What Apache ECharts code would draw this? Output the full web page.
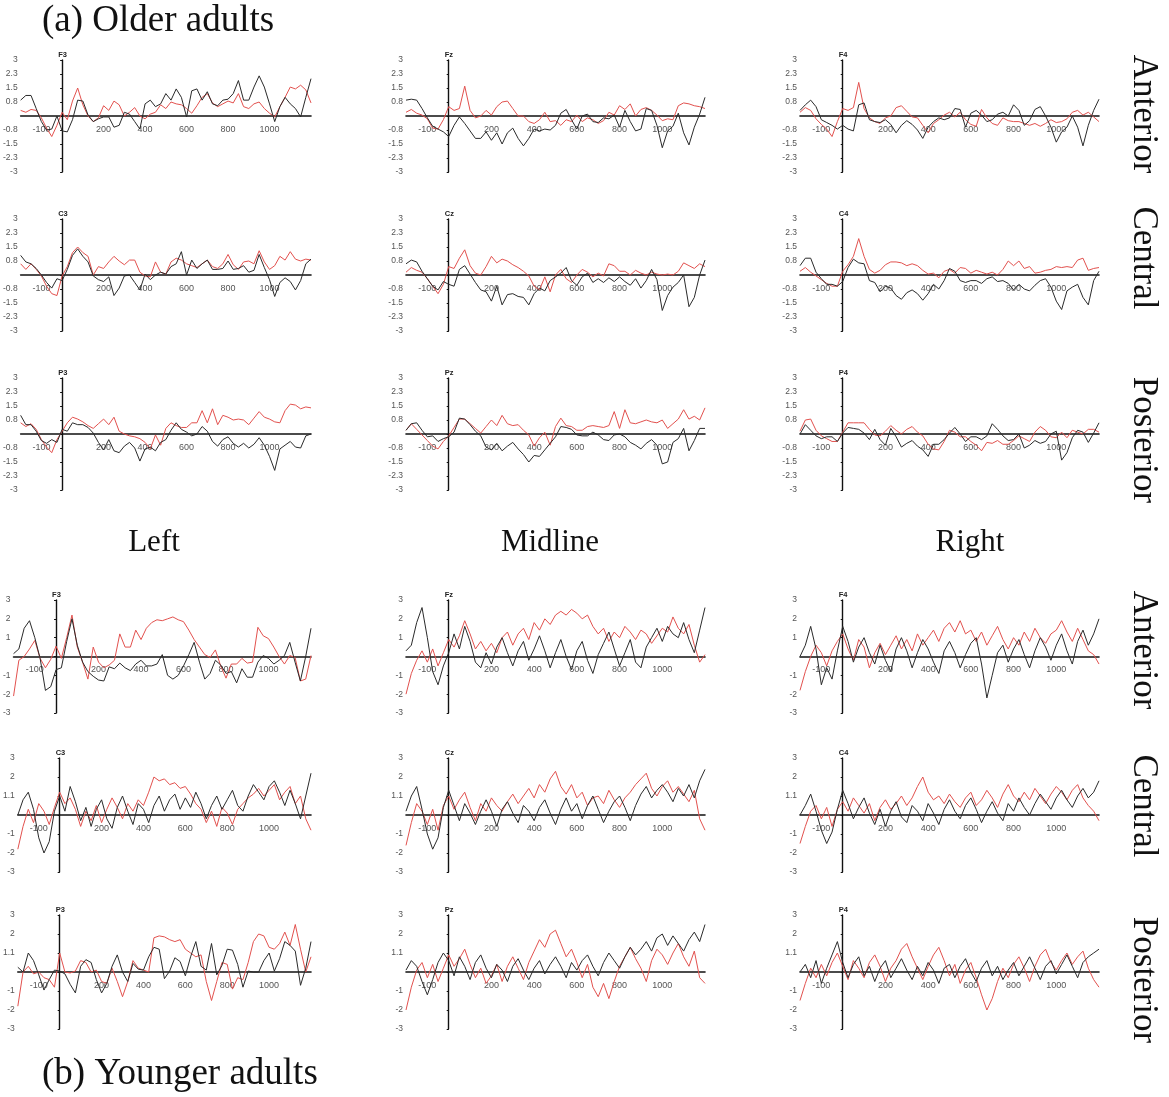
<!DOCTYPE html>
<html>
<head>
<meta charset="utf-8">
<script src="https://cdn.jsdelivr.net/npm/echarts@6/dist/echarts.min.js"></script>
<style>
  html, body { margin: 0; padding: 0; background: #ffffff; }
  #chart { width: 1169px; height: 1097px; }
</style>
</head>
<body>
<div id="chart"></div>
<script>
// Time points (ms) of the averaged waveforms
const times = [-200,-175,-150,-125,-100,-75,-50,-25,0,25,50,75,100,125,150,175,200,225,250,275,300,325,350,375,400,425,450,475,500,525,550,575,600,625,650,675,700,725,750,775,800,825,850,875,900,925,950,975,1000,1025,1050,1075,1100,1125,1150,1175,1200];

// Older adults: condition A (black) and condition B (red), amplitude in µV
const older_F3_a = [0.85,1.1,1.1,0.4,-0.3,-0.75,-0.7,0,-0.8,-0.85,-0.2,0.85,0.8,0.05,-0.3,-0.15,-0.05,-0.05,-0.6,-0.5,0.2,0.1,-0.3,-0.7,0.65,0.85,0.5,0.65,1.2,0.85,1.45,1.0,-0.05,1.35,1.45,0.85,1.3,0.65,0.55,0.85,0.9,1.2,1.9,0.85,0.85,1.55,2.15,1.55,0.65,-0.3,0.5,1.0,0.65,0.4,-0.05,1.0,2.0];
const older_F3_b = [0.3,0.2,0.35,0.3,-0.1,-0.65,-1.1,-0.5,0.2,-0.2,0.8,1.5,0.6,0.0,-0.3,-0.1,0.55,0.3,0.8,0.6,0.0,0.2,0.45,0.0,-0.15,0.1,0.2,0.6,0.4,0.75,0.65,0.6,0.4,0.15,0.55,1.0,1.2,0.7,0.5,0.65,0.8,0.7,1.2,0.5,0.4,0.65,0.75,0.4,0.15,-0.05,0.5,1.0,1.55,1.45,1.65,1.4,0.7];
const older_Fz_a = [0.85,0.9,0.85,0.4,-0.1,-0.55,-0.7,-0.85,-1.1,-0.5,-0.05,-0.4,-0.8,-1.2,-1.2,-0.85,-1.3,-0.9,-1.5,-0.9,-0.65,-1.2,-1.6,-1.2,-0.7,-0.8,-0.7,-0.75,-0.5,0.15,0.35,-0.2,-0.7,0.0,0.1,-0.3,-0.35,-0.1,-0.15,0.05,-0.6,0.3,-0.3,-0.8,-0.7,0.4,0.3,-0.5,-1.7,-0.8,-0.55,0.15,-0.9,-1.55,-0.6,0.1,1.0];
const older_Fz_b = [0.2,0.35,0.15,0.05,-0.15,-0.65,-0.7,-0.2,0.5,0.3,0.4,1.6,0.3,-0.1,0.0,0.3,0.05,0.5,0.75,0.8,0.4,0.0,0.0,-0.3,-0.4,-0.2,0.2,-0.3,-0.25,-0.5,-0.2,-0.3,0.05,-0.3,-0.1,-0.2,-0.4,-0.25,0.2,0.05,0.55,0.35,0.65,0.0,0.35,0.45,0.3,0.05,-0.25,-0.15,-0.2,0.55,0.7,0.65,0.55,0.5,0.4];
const older_F4_a = [0.3,0.6,0.85,0.5,-0.2,-0.35,-0.5,-0.7,-0.5,-0.7,-0.8,0.6,0.7,-0.2,-0.3,-0.35,-0.2,-0.45,-0.9,-0.5,-0.25,-0.45,-0.75,-1.2,-0.6,-0.3,-0.1,-0.2,-0.1,0.4,0.35,-0.6,0.15,0.3,0.05,-0.3,-0.2,0.1,0.2,0.0,0.6,0.3,-0.5,-0.25,0.35,0.5,0.0,-0.6,-1.4,-0.85,-0.6,0.0,-0.6,-1.6,-0.5,0.3,0.9];
const older_F4_b = [0.2,0.45,0.3,-0.15,-0.45,-0.7,-1.1,-0.3,0.4,0.3,0.45,1.8,0.4,-0.1,-0.3,-0.4,-0.1,0.0,0.45,0.55,0.25,-0.05,-0.1,-0.5,-0.9,-0.4,-0.2,0.05,0.2,-0.05,0.2,-0.2,-0.45,-0.55,0.35,-0.1,-0.4,-0.5,-0.1,-0.25,-0.3,-0.3,-0.4,-0.5,-0.4,-0.55,-0.4,-0.2,-0.35,-0.3,-0.15,0.2,0.3,0.05,0.2,-0.05,-0.3];
const older_C3_a = [1.05,0.7,0.6,0.35,0.0,-0.4,-0.7,-0.2,-0.3,0.3,1.05,1.4,1.0,0.7,-0.05,-0.25,-0.35,-0.1,-1.1,-0.7,-0.05,0.0,-0.4,-0.8,0.05,-0.25,0.0,0.15,0.05,0.45,0.6,1.25,0.0,0.8,0.35,0.6,0.8,0.3,0.3,0.35,0.75,0.3,0.35,0.5,0.15,0.25,1.1,0.4,-0.25,-1.15,-0.4,-0.15,-0.35,-0.8,-0.3,0.6,0.85];
const older_C3_b = [0.6,0.3,0.6,0.3,-0.05,-0.6,-1.0,-1.1,-0.05,0.45,1.2,1.5,1.2,1.0,0.0,0.45,0.35,0.7,1.0,0.75,0.55,0.8,0.8,0.15,-0.05,-0.1,0.7,0.15,0.05,0.7,0.9,0.8,0.6,0.5,0.4,0.6,0.8,0.45,0.35,0.6,1.1,0.55,0.3,0.7,0.75,0.6,1.3,0.7,0.3,0.5,1.0,0.8,1.25,0.85,0.75,0.85,0.8];
const older_Cz_a = [0.6,0.8,0.7,0.2,-0.2,-0.6,-0.8,-0.35,-0.5,-0.6,0.3,0.5,0.05,-0.4,-0.8,-0.9,-1.4,-0.6,-1.6,-1.05,-1.0,-1.15,-1.2,-1.6,-1.0,-0.7,-0.85,-0.3,-0.1,0.1,0.4,-0.3,-0.55,-0.1,0.1,-0.4,-0.2,-0.4,-0.15,-0.35,-0.1,-0.35,-0.55,-0.2,-0.7,-0.3,0.3,-0.25,-1.9,-1.1,-0.65,-0.4,0.0,-1.7,-1.2,0.0,0.8];
const older_Cz_b = [0.15,0.4,0.25,0.15,-0.2,-0.6,-1.0,-0.5,0.45,0.35,0.9,1.35,0.5,0.1,0.0,0.45,1.0,0.65,0.85,0.75,0.55,0.4,0.2,-0.05,-0.6,-0.8,-0.1,-0.9,0.0,0.3,-0.2,-0.4,0.0,0.3,0.15,-0.1,0.1,-0.05,0.6,0.5,0.2,0.2,0.0,0.25,0.1,0.0,0.15,0.05,0.0,0.05,0.0,0.2,0.65,0.5,0.35,0.6,0.45];
const older_C4_a = [0.5,0.9,0.9,0.15,-0.2,-0.5,-0.5,-0.6,-0.35,0.4,0.85,0.65,0.6,-0.3,-0.4,-0.9,-0.6,-0.7,-1.1,-1.3,-0.95,-0.8,-1.0,-1.35,-1.0,-0.5,-0.75,-0.3,0.35,0.2,-0.3,-0.4,-0.3,-0.3,-0.45,-0.2,-0.1,-0.35,-0.3,-0.45,-0.8,-0.5,-0.75,-0.85,-0.55,-0.3,-0.2,-0.65,-1.4,-1.85,-0.85,-0.65,-0.5,-1.2,-1.6,-0.3,0.2];
const older_C4_b = [0.2,0.4,0.15,-0.05,-0.25,-0.45,-0.6,-0.6,0.2,0.55,1.0,1.95,1.0,0.3,0.1,0.25,0.55,0.7,0.7,0.65,0.5,0.6,0.5,0.25,0.05,0.1,-0.15,0.2,0.3,0.1,0.4,0.35,0.1,0.25,0.15,0.05,0.15,0.0,0.3,0.75,0.5,0.75,0.35,0.45,0.1,0.15,0.25,0.3,0.45,0.4,0.45,0.4,0.8,0.9,0.25,0.35,0.4];
const older_P3_a = [1.0,0.5,0.5,0.15,-0.35,-0.5,-0.3,-0.45,0.25,0.15,0.6,0.5,0.5,0.35,0.05,-0.45,-0.85,-0.3,-0.9,-1.0,-0.65,-0.45,-0.75,-1.45,-0.8,-0.7,-0.9,-0.45,-0.3,0.2,0.6,0.25,0.1,-0.1,0.0,0.4,0.15,-0.4,-0.65,-0.3,-0.15,-0.5,-0.7,-0.5,-0.75,-0.55,-0.2,-0.6,-1.2,-1.95,-0.8,-0.6,-0.4,-0.7,-0.75,-0.1,0.0];
const older_P3_b = [0.6,0.4,0.55,0.25,-0.3,-0.7,-1.0,-0.3,0.15,0.6,0.9,0.8,0.65,0.45,0.3,0.55,0.8,0.5,0.9,0.15,0.0,-0.1,-0.15,-0.25,-0.45,-0.8,-0.05,-0.6,0.3,0.6,0.45,0.35,0.35,0.6,0.6,1.25,0.6,1.35,0.5,1.0,0.9,0.75,0.8,0.75,0.5,0.85,1.2,0.9,0.8,0.65,0.6,1.25,1.6,1.55,1.35,1.45,1.4];
const older_Pz_a = [0.2,0.55,0.6,0.2,-0.15,-0.1,-0.4,-0.25,-0.15,0.1,0.85,0.8,0.5,0.15,-0.1,-0.7,-0.85,-0.5,-0.9,-0.65,-0.45,-0.8,-1.1,-1.5,-1.15,-1.2,-0.85,-0.5,-0.15,0.4,0.35,0.25,-0.05,-0.1,-0.1,0.1,-0.05,-0.3,-0.35,-0.05,0.0,-0.15,-0.45,-0.6,-0.8,-0.5,-0.3,-0.6,-1.6,-1.5,-0.45,-0.25,0.3,-0.9,-0.35,0.3,0.3];
const older_Pz_b = [0.2,0.55,0.25,-0.05,-0.35,-0.65,-0.8,-0.4,-0.1,0.35,0.8,0.8,0.55,0.3,0.05,0.4,0.75,0.45,1.0,0.55,0.45,0.5,0.2,-0.05,-0.65,-0.2,0.1,-0.6,0.4,0.85,0.45,0.4,0.2,0.2,0.4,0.45,0.4,0.35,0.45,1.2,0.3,1.3,0.6,0.55,0.65,0.75,0.65,0.6,0.75,0.3,0.55,0.8,1.3,0.8,0.95,0.75,1.4];
const older_P4_a = [0.0,0.5,0.2,-0.1,-0.25,-0.15,-0.15,-0.4,0.05,0.35,0.3,0.25,0.05,-0.3,0.25,-0.3,-0.6,0.3,-0.15,-0.7,-0.5,-0.35,-0.65,-0.85,-1.2,-0.55,-0.55,-0.3,0.05,0.35,0.0,-0.4,-0.15,-0.15,-0.3,-0.1,0.55,0.25,-0.1,-0.35,-0.3,0.0,-0.75,-0.6,-0.35,-0.5,-0.4,0.0,0.15,-1.4,-1.0,-0.2,0.2,0.1,-0.45,0.05,0.6];
const older_P4_b = [0.15,0.75,0.8,0.2,-0.1,-0.25,-0.4,-0.4,0.1,0.6,0.6,0.6,0.6,0.25,-0.05,-0.1,0.15,0.45,0.2,0.0,0.25,0.4,0.1,-0.1,-0.55,-0.8,-0.85,-0.4,0.2,0.1,-0.15,-0.15,-0.4,-0.6,-0.9,-0.45,-0.5,-0.35,-0.55,-0.55,-0.35,-0.1,-0.25,-0.4,0.1,0.4,0.2,-0.15,-0.2,0.1,-0.2,0.2,0.1,0.0,0.25,0.25,0.1];

// Younger adults: condition A (black) and condition B (red), amplitude in µV
const young_F3_a = [0.15,0.4,1.5,1.9,1.0,-0.1,-1.8,-1.6,-0.7,-0.6,0.8,2.0,0.6,-0.3,-0.8,-1.05,-1.25,-1.3,-0.55,-0.65,-0.35,-0.6,-0.75,-0.4,-0.2,-0.5,-0.5,-0.4,0.1,-1.0,-1.2,-1.0,-0.5,0.1,0.75,-0.3,-1.2,-0.9,-0.2,-0.45,-0.9,-0.8,-1.4,-0.65,-1.1,-1.1,-0.3,0.05,-0.1,-0.4,-0.2,0.05,0.75,-0.3,-1.3,0.0,1.5];
const young_F3_b = [-2.1,-0.2,0.0,0.4,0.85,-0.1,-0.6,-0.15,0.55,-0.1,1.0,2.2,0.5,-0.3,-1.2,0.5,-0.3,-0.6,-0.45,-0.2,1.2,0.5,0.5,1.4,0.9,1.5,1.8,1.95,1.9,2.0,2.1,1.95,1.85,1.4,0.9,0.5,0.1,-0.05,0.35,-0.5,-1.15,-0.4,-0.4,-0.1,-0.35,-0.3,1.55,1.1,0.95,0.5,0.0,-0.4,0.05,-0.05,-1.3,-1.2,0.05];
const young_Fz_a = [0.3,0.6,1.8,2.6,1.0,-0.8,-1.5,-0.5,0.2,1.2,0.4,1.6,0.8,-0.3,-0.6,0.2,-0.4,0.5,1.0,0.2,-0.5,0.3,0.8,-0.2,0.4,1.1,0.3,-0.6,0.2,0.9,0.0,-0.7,0.3,0.8,-0.2,-0.9,0.1,0.7,1.3,0.4,-0.5,0.2,0.9,-0.3,-0.6,0.5,1.0,1.5,0.8,1.6,1.2,1.0,1.8,0.9,0.2,1.4,2.6];
const young_Fz_b = [-2.0,-0.9,-0.2,0.3,-0.3,0.4,-0.5,0.2,0.9,0.5,1.1,1.9,1.2,0.4,0.8,0.3,0.7,0.2,1.0,1.3,0.6,1.2,1.5,0.9,1.8,1.4,2.0,1.7,2.2,2.4,2.2,2.5,2.3,2.0,2.2,1.6,1.2,1.5,0.8,1.3,1.0,1.6,1.3,0.9,1.4,1.2,0.7,1.1,1.5,1.3,2.1,1.5,1.2,1.7,0.6,-0.3,0.1];
const young_F4_a = [0.0,0.6,1.6,0.4,-1.5,-0.6,-1.2,0.3,1.6,0.8,-0.3,0.5,1.0,0.2,-0.4,0.6,-0.2,-0.8,0.4,1.0,0.3,-0.6,0.2,0.9,0.4,-0.3,-0.9,0.3,0.8,0.2,-0.6,0.1,0.7,1.0,-0.4,-2.2,-1.0,0.2,0.6,-0.3,0.4,0.9,0.1,-0.6,0.3,1.0,0.5,-0.2,0.6,1.2,0.3,-0.4,0.8,1.4,0.6,1.2,2.0];
const young_F4_b = [-1.8,-0.8,0.0,0.6,0.2,-0.5,0.3,0.8,1.2,0.4,-0.2,0.9,0.5,-0.6,0.2,0.7,0.1,0.6,1.1,0.4,0.9,0.3,1.2,0.6,1.0,1.4,0.8,1.5,1.8,1.3,1.9,1.2,1.4,0.8,1.3,0.6,1.1,1.6,0.9,0.4,1.0,0.6,1.3,0.8,1.5,1.0,0.7,1.2,1.4,1.9,1.3,0.8,1.5,0.9,0.3,0.1,-0.4];
const young_C3_a = [0.0,0.8,1.2,0.3,-1.2,-2.0,-1.4,0.2,1.0,0.2,1.5,0.7,-0.3,0.4,-0.6,0.3,0.8,-0.2,-0.7,0.4,1.0,0.2,-0.5,0.6,0.3,-0.4,0.5,1.0,0.2,0.8,1.1,0.3,0.9,0.4,1.2,0.6,-0.2,0.5,1.0,0.3,0.8,1.3,0.5,0.2,1.0,1.6,1.2,0.8,1.5,1.8,1.2,0.5,1.3,0.6,-0.2,1.0,2.2];
const young_C3_b = [-1.8,-0.6,0.3,-0.4,0.6,0.2,-0.5,0.4,1.2,0.6,0.9,0.3,-0.6,0.2,-0.3,0.5,-0.4,0.3,0.9,0.4,-0.2,0.6,0.2,0.8,0.5,1.2,2.0,1.8,1.9,1.6,1.7,1.4,1.5,1.1,0.6,0.3,-0.4,0.2,-0.6,0.4,0.1,-0.5,0.3,0.6,0.9,1.1,1.4,1.0,1.3,1.6,0.8,1.2,1.5,0.6,1.0,-0.2,-0.8];
const young_Cz_a = [0.2,1.0,1.5,0.3,-1.0,-1.8,-1.2,0.4,1.3,0.5,-0.3,0.6,0.1,-0.5,0.2,0.8,0.2,-0.6,0.3,0.7,0.1,-0.4,0.5,0.2,-0.3,0.4,0.8,0.1,-0.5,0.3,0.9,0.2,0.6,-0.2,0.5,1.0,0.3,-0.4,0.2,0.7,1.0,0.4,-0.3,0.5,1.1,1.5,0.9,1.3,1.6,1.2,0.7,1.4,1.0,1.6,0.9,1.8,2.4];
const young_Cz_b = [-1.6,-0.4,0.6,0.2,-0.5,0.3,-0.8,0.5,1.0,0.3,0.8,1.2,0.4,-0.3,0.6,0.2,0.9,0.5,0.2,0.7,1.1,0.6,1.0,1.4,0.9,1.6,1.2,1.9,2.3,1.5,1.1,1.6,0.9,1.2,0.5,0.9,1.0,0.6,1.3,0.8,0.4,0.9,1.2,1.6,1.9,2.2,1.4,1.0,1.5,1.8,1.2,1.5,1.1,0.7,1.3,-0.2,-0.8];
const young_C4_a = [0.0,0.5,1.1,0.2,-0.8,-1.5,-0.9,0.3,1.3,0.6,-0.2,0.4,0.9,0.1,-0.5,0.3,-0.6,0.2,0.7,-0.1,-0.4,0.5,0.2,-0.3,0.6,0.1,-0.5,0.3,0.8,0.2,-0.2,0.5,0.9,0.3,-0.4,0.2,0.7,0.1,-0.3,0.6,0.2,0.9,0.4,0.0,0.6,1.1,0.7,0.3,0.9,1.3,0.8,0.4,1.0,1.4,0.9,1.2,1.8];
const young_C4_b = [-1.5,-0.6,0.2,0.5,-0.2,0.4,-0.6,0.3,0.7,0.2,0.9,0.5,0.1,0.6,-0.3,0.4,0.8,0.3,0.6,1.0,0.5,0.9,1.5,2.0,1.2,0.8,1.0,0.6,1.1,0.7,0.4,0.9,1.2,0.5,0.8,1.3,0.9,0.4,1.1,1.6,1.0,0.7,1.2,0.8,1.4,1.0,0.6,1.1,1.5,1.2,0.8,1.3,1.6,0.9,0.5,0.2,-0.3];
const young_P3_a = [0.25,0.0,1.0,0.6,-0.15,-0.95,-0.4,0.1,0.05,-0.1,-0.65,-1.1,0.3,0.65,0.5,-0.4,-1.1,-0.6,0.3,0.9,0.0,-0.5,0.45,0.15,0.1,0.8,1.3,1.2,-0.35,0.05,0.75,0.55,-0.2,0.8,1.6,0.3,0.1,1.5,-0.15,0.35,1.2,1.15,0.4,-0.8,0.05,0.0,0.0,0.6,1.0,0.05,0.7,1.6,1.4,1.1,-0.7,0.2,1.6];
const young_P3_b = [-1.8,0.0,0.3,-0.1,0.0,-0.3,-0.4,-0.8,1.0,0.0,-0.05,0.05,0.6,0.5,0.0,0.1,-0.5,-0.6,0.2,-0.5,-1.3,-0.5,0.6,0.2,0.1,0.0,1.8,1.9,1.85,1.7,1.6,1.7,1.2,1.0,0.8,0.9,-0.5,-1.5,-0.5,0.5,0.4,-0.9,-0.3,-0.4,0.5,1.6,2.0,1.9,1.3,1.2,1.5,2.1,1.4,2.5,1.2,0.0,0.8];
const young_Pz_a = [0.1,0.6,0.3,-0.5,-1.2,-0.4,0.5,1.0,0.6,-0.2,0.8,0.3,-0.4,0.5,0.9,0.2,-0.3,0.4,0.1,-0.5,0.3,0.7,0.1,-0.4,0.2,0.6,-0.1,0.4,0.8,0.3,-0.3,0.5,0.1,0.6,0.9,0.3,-0.2,0.5,1.0,0.6,0.2,0.8,1.3,0.9,1.2,1.6,1.1,1.8,2.0,1.4,1.9,1.5,1.1,1.7,2.1,1.6,2.5];
const young_Pz_b = [-2.0,-0.8,0.1,0.5,-0.3,0.4,-0.5,0.2,0.9,0.3,0.7,1.2,0.4,-0.3,0.2,-0.6,-0.2,0.4,-0.5,0.3,0.8,0.2,-0.4,0.5,1.1,1.7,1.3,2.0,2.2,1.5,0.8,1.2,0.5,-0.3,0.4,-0.8,-1.3,-0.6,-1.4,-0.5,0.3,0.8,1.3,0.7,0.2,-0.5,0.6,1.2,0.9,0.4,1.0,1.5,0.8,0.3,1.1,-0.3,-0.6];
const young_P4_a = [0.0,0.4,-0.3,0.6,-0.6,0.2,0.9,1.6,0.5,-0.3,0.4,0.8,-0.2,0.3,-0.5,0.2,0.6,-0.3,0.2,0.7,0.1,-0.4,0.3,-0.2,0.5,0.1,-0.6,0.2,0.4,-0.3,0.3,0.7,0.0,-0.5,0.2,0.6,-0.2,0.3,-0.4,0.1,0.5,-0.2,0.3,0.8,0.2,-0.4,0.3,0.6,-0.1,0.4,0.9,0.3,-0.3,0.5,0.8,1.0,1.2];
const young_P4_b = [-1.5,-0.6,0.2,-0.3,0.4,-0.2,0.5,1.0,0.3,-0.4,0.6,0.2,-0.3,0.5,0.9,0.3,-0.5,0.2,0.6,1.2,1.5,0.8,0.2,-0.4,0.3,0.9,1.3,0.6,-0.2,0.4,-0.6,0.1,0.5,-0.3,-1.2,-2.0,-1.4,-0.5,0.2,-0.3,0.4,0.8,0.2,-0.5,0.3,0.9,1.2,0.5,0.1,0.6,1.0,0.4,0.8,1.1,0.2,-0.4,-0.8];

// Channel layout: [group, row, column, channel, black trace, red trace]
const panels = [
  ['older', 0, 0, 'F3', older_F3_a, older_F3_b],
  ['older', 0, 1, 'Fz', older_Fz_a, older_Fz_b],
  ['older', 0, 2, 'F4', older_F4_a, older_F4_b],
  ['older', 1, 0, 'C3', older_C3_a, older_C3_b],
  ['older', 1, 1, 'Cz', older_Cz_a, older_Cz_b],
  ['older', 1, 2, 'C4', older_C4_a, older_C4_b],
  ['older', 2, 0, 'P3', older_P3_a, older_P3_b],
  ['older', 2, 1, 'Pz', older_Pz_a, older_Pz_b],
  ['older', 2, 2, 'P4', older_P4_a, older_P4_b],
  ['young', 3, 0, 'F3', young_F3_a, young_F3_b],
  ['young', 3, 1, 'Fz', young_Fz_a, young_Fz_b],
  ['young', 3, 2, 'F4', young_F4_a, young_F4_b],
  ['young', 4, 0, 'C3', young_C3_a, young_C3_b],
  ['young', 4, 1, 'Cz', young_Cz_a, young_Cz_b],
  ['young', 4, 2, 'C4', young_C4_a, young_C4_b],
  ['young', 5, 0, 'P3', young_P3_a, young_P3_b],
  ['young', 5, 1, 'Pz', young_Pz_a, young_Pz_b],
  ['young', 5, 2, 'P4', young_P4_a, young_P4_b]
];

const xTickLabels = [-100, 200, 400, 600, 800, 1000];

// Panel geometry
const rowTop = [60, 219, 378, 600, 758, 915];
const rowHeight = [112, 112, 112, 113, 114, 114];
const colLeft = [12, 406, 800];
const panelWidth = 299;

const BLACK = '#2a2a2a';
const RED = '#e2514e';
const AXIS = '#111111';
const LABEL = '#555555';
const SANS = 'Arial, "Liberation Sans", sans-serif';

function fmtOlder(v) {
  if (Math.abs(v) < 1e-9) return '';
  const s = v < 0 ? -1 : 1;
  return (s * Math.round(Math.abs(v) * 10) / 10).toFixed(Math.abs(v) === 3 ? 0 : 1).replace(/\.0$/, '');
}

const grids = [], xAxes = [], yAxes = [], series = [];
panels.forEach((p, i) => {
  const [group, row, col, ch, blk, red] = p;
  const h = rowHeight[row];
  grids.push({ left: colLeft[col], top: rowTop[row], width: panelWidth, height: h, containLabel: false });
  xAxes.push({
    gridIndex: i, type: 'value', min: -200, max: 1200, interval: 100,
    axisLine: { onZero: true, lineStyle: { color: AXIS, width: 1.6 } },
    axisTick: { show: false },
    splitLine: { show: false },
    axisLabel: {
      fontSize: 9, color: LABEL, fontFamily: SANS,
      // labels sit just under the zero line
      margin: -(h / 2 - 9),
      showMinLabel: false, showMaxLabel: false,
      formatter: v => xTickLabels.indexOf(v) >= 0 ? String(v) : ''
    }
  });
  const older = group === 'older';
  const midRow = row === 4 || row === 5;
  yAxes.push({
    gridIndex: i, type: 'value', min: -3, max: 3, interval: older ? 0.75 : 1,
    axisLine: { show: true, onZero: true, lineStyle: { color: AXIS, width: 1.4 } },
    axisTick: { show: true, length: 2, lineStyle: { color: AXIS, width: 1 } },
    splitLine: { show: false },
    axisLabel: {
      fontSize: 8.5, color: LABEL, margin: 3, fontFamily: SANS,
      formatter: v => {
        if (older) return fmtOlder(v);
        if (v === 0) return '';
        if (v === 1 && midRow) return '1.1';
        return String(v);
      }
    },
    name: ch, nameLocation: 'end', nameGap: 1,
    nameTextStyle: { fontSize: 7.5, fontWeight: 'bold', color: '#222', align: 'left', padding: [0, 0, 0, -4], fontFamily: SANS }
  });
  series.push({
    type: 'line', xAxisIndex: i, yAxisIndex: i, showSymbol: false, silent: true,
    data: times.map((t, j) => [t, red[j]]),
    lineStyle: { color: RED, width: 1 }, z: 2
  });
  series.push({
    type: 'line', xAxisIndex: i, yAxisIndex: i, showSymbol: false, silent: true,
    data: times.map((t, j) => [t, blk[j]]),
    lineStyle: { color: BLACK, width: 1 }, z: 3
  });
});

const serif = '"Liberation Serif", "Times New Roman", serif';
function txt(text, x, y, size, align, rot) {
  return {
    type: 'text', x: x, y: y, rotation: rot || 0, silent: true,
    style: {
      text: text, font: size + 'px ' + serif, fill: '#111',
      textAlign: align, textVerticalAlign: 'middle', align: align, verticalAlign: 'middle'
    }
  };
}
const graphics = [
  txt('(a) Older adults', 42, 21, 37, 'left'),
  txt('Left', 154, 543, 31, 'center'),
  txt('Midline', 550, 543, 31, 'center'),
  txt('Right', 970, 543, 31, 'center'),
  txt('(b) Younger adults', 42, 1074, 37, 'left'),
  txt('Anterior', 1143, 114, 35, 'center', -Math.PI / 2),
  txt('Central', 1143, 258, 35, 'center', -Math.PI / 2),
  txt('Posterior', 1143, 440, 35, 'center', -Math.PI / 2),
  txt('Anterior', 1143, 650, 35, 'center', -Math.PI / 2),
  txt('Central', 1143, 806, 35, 'center', -Math.PI / 2),
  txt('Posterior', 1143, 980, 35, 'center', -Math.PI / 2)
];

const chart = echarts.init(document.getElementById('chart'), null, { renderer: 'canvas' });
chart.setOption({
  animation: false,
  backgroundColor: '#ffffff',
  grid: grids,
  xAxis: xAxes,
  yAxis: yAxes,
  series: series,
  graphic: graphics
});
</script>
</body>
</html>
